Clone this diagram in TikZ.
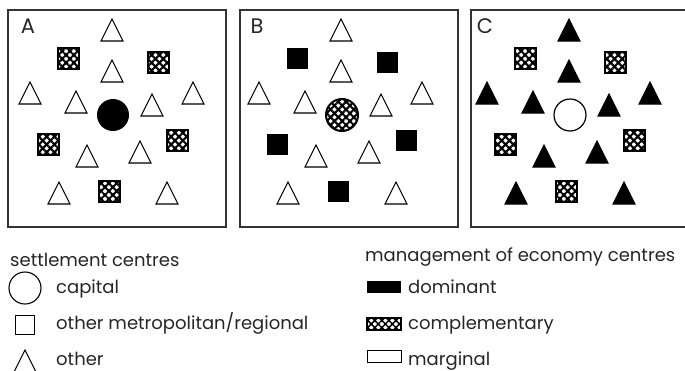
\documentclass[tikz,border=0pt]{standalone}
\usepackage{fontspec}
\setmainfont{Poppins}
\usetikzlibrary{patterns.meta}

\tikzstyle{frame} = [draw=black!80, line width=1.4pt]
\tikzstyle{sq} = [rectangle, minimum size=21pt, inner sep=0pt]
\tikzstyle{cir} = [circle, minimum size=32pt, inner sep=0pt]
\tikzstyle{bar} = [rectangle, minimum width=34pt, minimum height=12pt, inner sep=0pt]
\tikzstyle{hatched} = [draw=black, line width=2pt, pattern={Hatch[angle=45,distance=5.5pt,line width=2.1pt]}]
\tikzstyle{txt} = [anchor=base west, inner sep=0pt, font=\fontsize{18}{21}\selectfont, text=black!85]
\tikzset{tri/.pic={\path[pic actions, draw, line width=1.1pt] (-11pt,-11pt) -- (0pt,11pt) -- (11pt,-11pt) -- cycle;}}

% symbols of one panel, styles ptri, psq, pcir set by the scope
\newcommand{\drawpanel}[1]{%
  \foreach \x/\y in {104/20, 104/61, 22/83, 185/83, 68/92, 144/95, 79/146, 132/142, 51/183, 159/183}
    \pic[ptri] at (\x,\y) {tri};
  \foreach \x/\y [count=\i] in {60/48, 150/52, 40/134, 169/130, 101/181}
    \node[sq, psq] (#1s\i) at (\x,\y) {};
  \node[cir, pcir] (#1c) at (105,105) {};
  \node[txt, anchor=center, font=\fontsize{21}{24}\selectfont] (#1lab) at (20,16) {#1};
}

\begin{document}
\begin{tikzpicture}[x=1pt, y=-1pt]
\useasboundingbox (0,0) rectangle (685,370);

% panels
\foreach \xo in {8, 240, 471}
  \draw[frame] (\xo,10) rectangle ++(218,217);

\begin{scope}[shift={(8,10)}, ptri/.style={fill=white}, psq/.style={hatched}, pcir/.style={fill=black}]
  \drawpanel{A}
\end{scope}
\begin{scope}[shift={(237,10)}, ptri/.style={fill=white}, psq/.style={fill=black}, pcir/.style={hatched, line width=2pt}]
  \drawpanel{B}
\end{scope}
\begin{scope}[shift={(465,10)}, ptri/.style={fill=black}, psq/.style={hatched}, pcir/.style={draw, line width=1.2pt}]
  \drawpanel{C}
\end{scope}

% legend: settlement centres
\node[txt] (sethead) at (10,266) {settlement centres};
\node[cir, draw, line width=1.1pt] (capsym) at (25,288) {};
\node[txt] (captxt) at (56,293) {capital};
\node[sq, draw, minimum size=19pt, line width=1pt] (metsym) at (25,325) {};
\node[txt] (mettxt) at (56,329) {other metropolitan/regional};
\pic[fill=white] at (25,361) {tri};
\node[txt] (othtxt) at (56,365) {other};

% legend: management of economy centres
\node[txt] (manhead) at (365,261) {management of economy centres};
\node[bar, fill=black] (domsym) at (384,286.5) {};
\node[txt] (domtxt) at (408,293) {dominant};
\node[bar, draw=black, line width=1.5pt, pattern={Hatch[angle=45,distance=5pt,line width=1.5pt]}] (comsym) at (384,324) {};
\node[txt] (comtxt) at (408,329) {complementary};
\node[bar, draw, line width=1pt] (marsym) at (384,356.5) {};
\node[txt] (martxt) at (408,365) {marginal};
\end{tikzpicture}
\end{document}
